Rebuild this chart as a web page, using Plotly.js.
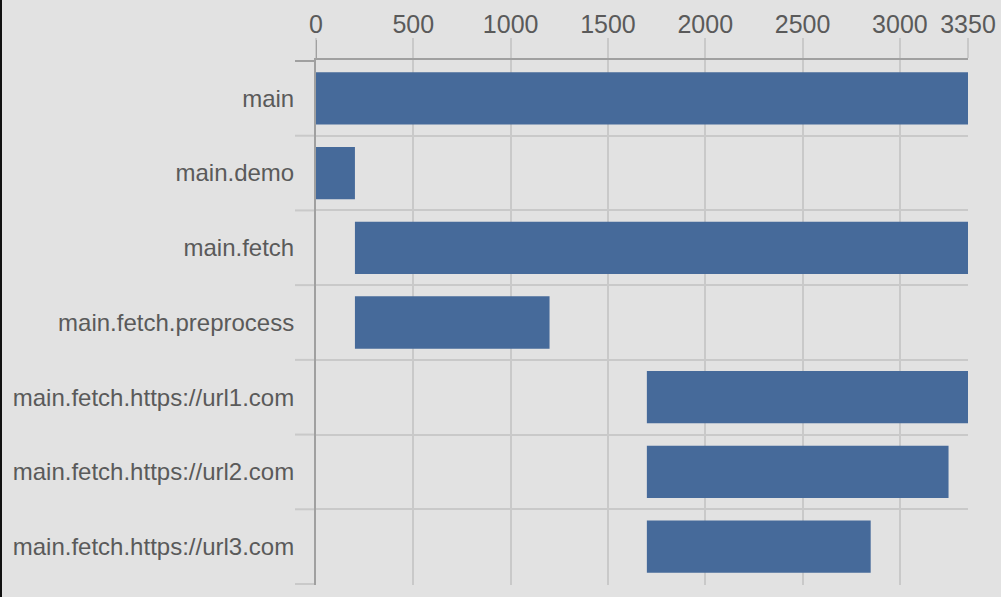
<!DOCTYPE html>
<html>
<head>
<meta charset="utf-8">
<script src="https://cdn.plot.ly/plotly-3.0.1.min.js"></script>
<style>
  html, body { margin: 0; padding: 0; background: #e2e2e2; }
  #edge { position: absolute; left: 0; top: 0; width: 2px; height: 597px; background: #111; z-index: 10; }
  #chart { width: 1001px; height: 597px; }
</style>
</head>
<body>
<div id="edge"></div>
<div id="chart"></div>
<script>
const tasks = ["main", "main.demo", "main.fetch", "main.fetch.preprocess",
  "main.fetch.https://url1.com", "main.fetch.https://url2.com", "main.fetch.https://url3.com"];
const starts = [0, 0, 200, 200, 1700, 1700, 1700];
const ends = [3350, 200, 3350, 1200, 3350, 3250, 2850];
const xTicks = [0, 500, 1000, 1500, 2000, 2500, 3000, 3350];

const durations = ends.map((e, i) => e - starts[i]);
const gridColor = "#c9c9c9";
const axisColor = "#a0a0a0";
const textColor = "#5a5a5a";
const tickOut = 21 / 652;

const trace = {
  type: "bar",
  orientation: "h",
  y: tasks,
  x: durations,
  base: starts,
  width: 0.7,
  marker: { color: "#466a9a", line: { width: 0 } },
  hoverinfo: "none"
};

// boundary tick extensions to the left of the y axis (category boundaries)
const boundaryShapes = [];
for (let i = 0; i <= tasks.length; i++) {
  boundaryShapes.push({
    type: "line", xref: "paper", yref: "y", layer: "below",
    x0: -tickOut, x1: 0, y0: i - 0.5, y1: i - 0.5,
    line: { color: i === 0 ? axisColor : gridColor, width: 2 }
  });
}

const layout = {
  width: 1001,
  height: 597,
  margin: { l: 316, r: 33, t: 60, b: 12, pad: 0 },
  paper_bgcolor: "#e2e2e2",
  plot_bgcolor: "#e2e2e2",
  font: { family: "Liberation Sans, Arial, sans-serif", size: 24, color: textColor },
  showlegend: false,
  xaxis: {
    side: "top",
    range: [0, 3350],
    tickmode: "array",
    tickvals: xTicks,
    ticktext: xTicks.map(String),
    ticks: "outside",
    ticklen: 20,
    tickwidth: 2,
    tickcolor: gridColor,
    ticklabelstandoff: -5,
    showgrid: true,
    gridcolor: gridColor,
    gridwidth: 2,
    zeroline: false,
    showline: true,
    linecolor: axisColor,
    linewidth: 2,
    tickfont: { size: 25, color: textColor },
    fixedrange: true
  },
  yaxis: {
    type: "category",
    categoryorder: "array",
    categoryarray: tasks,
    autorange: "reversed",
    tickson: "boundaries",
    ticks: "",
    ticklabelstandoff: 15,
    showgrid: true,
    gridcolor: gridColor,
    gridwidth: 2,
    zeroline: false,
    showline: true,
    linecolor: axisColor,
    linewidth: 2,
    tickfont: { size: 24, color: textColor },
    fixedrange: true
  },
  shapes: [
    { type: "line", xref: "x", yref: "paper", x0: 0, x1: 0, y0: 1, y1: 1 + 20 / 525,
      line: { color: axisColor, width: 2 } }
  ].concat(boundaryShapes),
  bargap: 0.3
};

Plotly.newPlot("chart", [trace], layout, { displayModeBar: false, staticPlot: true });
</script>
</body>
</html>
